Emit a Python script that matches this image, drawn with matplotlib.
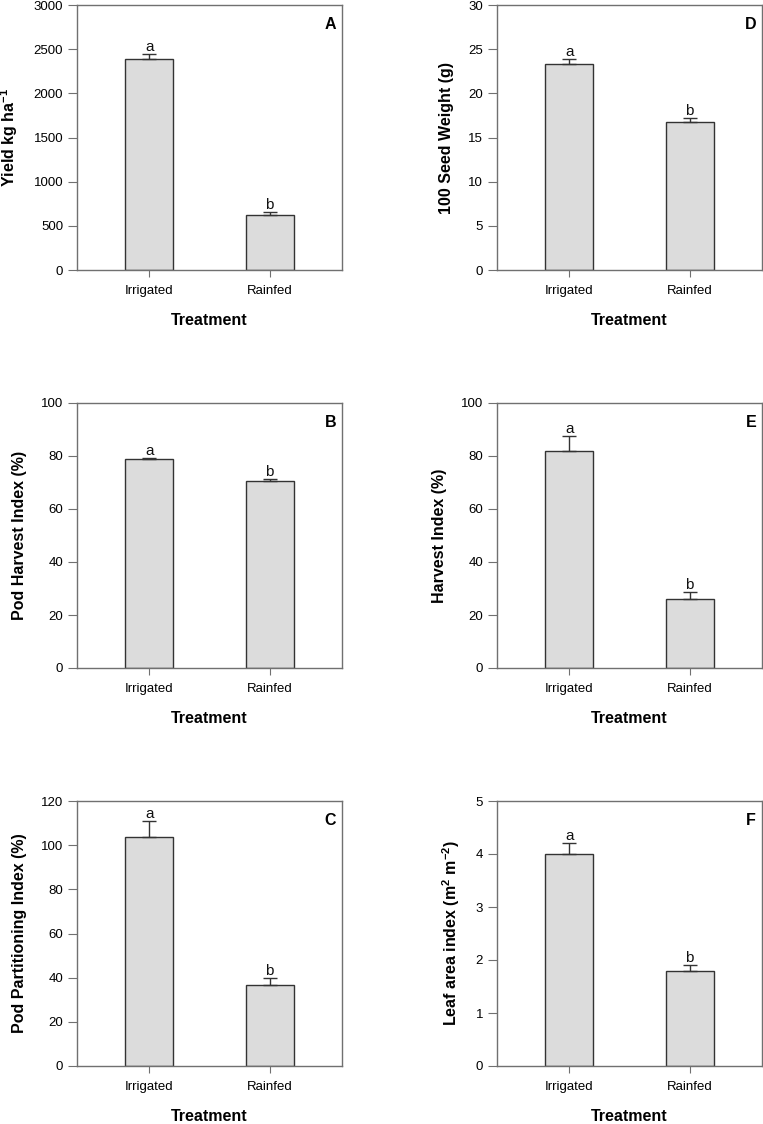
import matplotlib
matplotlib.use("Agg")
import matplotlib.pyplot as plt
import numpy as np

plt.rcParams['font.family'] = ['Liberation Sans', 'DejaVu Sans']
plt.rcParams['mathtext.fontset'] = 'custom'
plt.rcParams['mathtext.rm'] = 'Liberation Sans'
plt.rcParams['mathtext.bf'] = 'Liberation Sans:bold'

treatments = ["Irrigated", "Rainfed"]

yield_vals = [2390, 620]
yield_err = [50, 35]
pod_hi_vals = [78.8, 70.5]
pod_hi_err = [0.5, 1.0]
ppi_vals = [103.8, 36.6]
ppi_err = [7.1, 3.3]
seed_wt_vals = [23.36, 16.72]
seed_wt_err = [0.5, 0.45]
hi_vals = [81.8, 26.0]
hi_err = [5.6, 2.7]
lai_vals = [4.0, 1.8]
lai_err = [0.2, 0.1]

letters = ["a", "b"]

panels = [
    ("A", yield_vals, yield_err, r"Yield kg ha$^{\mathbf{-1}}$", 3000, 500, (77, 5, 342, 270)),
    ("B", pod_hi_vals, pod_hi_err, "Pod Harvest Index (%)", 100, 20, (77, 403, 342, 668)),
    ("C", ppi_vals, ppi_err, "Pod Partitioning Index (%)", 120, 20, (77, 801, 342, 1066)),
    ("D", seed_wt_vals, seed_wt_err, "100 Seed Weight (g)", 30, 5, (497, 5, 762, 270)),
    ("E", hi_vals, hi_err, "Harvest Index (%)", 100, 20, (497, 403, 762, 668)),
    ("F", lai_vals, lai_err, r"Leaf area index (m$^{\mathbf{2}}$ m$^{\mathbf{-2}}$)", 5, 1, (497, 801, 762, 1066)),
]

W, H = 763, 1124
fig = plt.figure(figsize=(W / 100, H / 100), dpi=100)

spine_col = "#707070"
edge_col = "#333333"
bar_col = "#dcdcdc"

for lab, vals, errs, ylabel, ymax, ystep, (l, t, r, b) in panels:
    ax = fig.add_axes([l / W, 1 - b / H, (r - l) / W, (b - t) / H])
    x = np.arange(len(treatments))
    ax.bar(x, vals, width=0.4, color=bar_col, edgecolor=edge_col, linewidth=1.0, zorder=2)
    ax.errorbar(x, vals, yerr=[np.zeros(len(vals)), errs], fmt="none",
                ecolor=edge_col, elinewidth=1.0, capsize=4.7, capthick=1.0, zorder=3)
    for xi, v, e, letter in zip(x, vals, errs, letters):
        ax.text(xi, v + e, letter, ha="center", va="bottom", fontsize=11, color="#111111")
    ax.set_xlim(-0.6, 1.6)
    ax.set_ylim(0, ymax)
    ax.set_yticks(np.arange(0, ymax + ystep / 2, ystep))
    ax.set_xticks(x)
    ax.set_xticklabels(treatments)
    ax.tick_params(axis="y", direction="out", length=6.5, width=0.8, color=spine_col,
                   labelsize=9.5, pad=3.5, right=False)
    ax.tick_params(axis="x", direction="out", length=5, width=0.8, color=spine_col,
                   labelsize=9.5, pad=6, top=False)
    for s in ax.spines.values():
        s.set_color(spine_col)
        s.set_linewidth(1.0)
    ax.set_ylabel(ylabel, fontsize=11.5, fontweight="bold", labelpad=10)
    ax.set_xlabel("Treatment", fontsize=11.5, fontweight="bold", labelpad=11)
    ax.text(0.978, 0.955, lab, transform=ax.transAxes, ha="right", va="top",
            fontsize=11.5, fontweight="bold")

fig.savefig("out.png", dpi=100)
